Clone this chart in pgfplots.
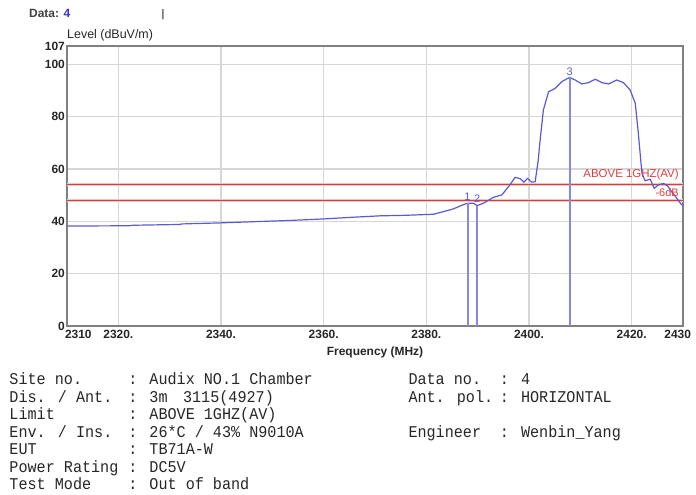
\documentclass[border=0pt]{standalone}
\usepackage{fontspec}
\setmainfont{Liberation Sans}
\newfontfamily\monof[FakeStretch=0.92]{Liberation Mono}
\usepackage{pgfplots}
\pgfplotsset{compat=1.18}
\definecolor{curveblue}{RGB}{90,90,210}
\definecolor{markblue}{RGB}{135,135,228}
\definecolor{limred}{RGB}{205,65,65}
\definecolor{limhalo}{RGB}{242,195,195}
\definecolor{gridgray}{RGB}{214,214,214}
\definecolor{framegray}{RGB}{128,128,128}
\definecolor{labred}{RGB}{225,60,60}
\definecolor{datablue}{RGB}{50,50,210}
\newcommand{\ML}[3]{\node[anchor=base west,inner sep=0pt,text=black!85,font=\monof\fontsize{16.5}{16.5}\selectfont] at (#1bp,#2bp) {#3};}
\begin{document}
\begin{tikzpicture}
\useasboundingbox (0,0) rectangle (696bp,495bp);
\begin{axis}[
  at={(67bp,169bp)}, anchor=south west,
  scale only axis, width=616bp, height=280bp,
  xmin=2310, xmax=2430, ymin=0, ymax=107,
  clip=false,
  axis line style={draw=framegray, line width=1.5bp},
  xtick={2310,2320,2340,2360,2380,2400,2420,2430},
  xticklabels={\makebox[0pt][l]{\kern-2bp 2310},2320.,2340.,2360.,2380.,2400.,2420.,\makebox[0pt][r]{2430\kern-8bp}},
  ytick={0,20,40,60,80,100,107},
  yticklabels={0,20,40,60,80,100,107},
  major tick length=0pt,
  grid=major,
  major grid style={draw=gridgray, line width=1.4bp},
  /pgf/number format/assume math mode=true,
  tick label style={font=\fontsize{12}{12}\selectfont\bfseries, text=black!85},
  yticklabel style={inner sep=2bp},
  xticklabel style={inner sep=2bp, yshift=-2bp},
  xlabel={Frequency (MHz)},
  every axis x label/.style={at={(axis description cs:0.5,-0.094)}, anchor=center, font=\fontsize{12}{12}\selectfont\bfseries, text=black!85},
  ylabel={Level (dBuV/m)},
  every axis y label/.style={at={(axis description cs:0,1.039)}, anchor=west, inner sep=0pt, font=\fontsize{12.5}{12.5}\selectfont, text=black!85},
]
% limit lines with halo
\addplot[limhalo, line width=3.2bp] coordinates {(2310,54) (2430,54)};
\addplot[limhalo, line width=3.2bp] coordinates {(2310,48) (2430,48)};
\addplot[limred, line width=1.1bp] coordinates {(2310,54) (2430,54)};
\addplot[limred, line width=1.1bp] coordinates {(2310,48) (2430,48)};
% spectrum trace
\addplot[curveblue, line width=1.2bp] coordinates {
(2310.0,38.2) (2322.0,38.3) (2322.9,38.5) (2332.0,38.8) (2332.3,39.0)
(2339.8,39.4) (2347.0,39.9) (2353.0,40.3) (2359.9,40.9) (2365.1,41.5)
(2371.0,42.1) (2376.0,42.3) (2381.4,42.7) (2383.3,43.7) (2385.2,44.7)
(2387.5,46.6) (2388.2,46.9) (2389.2,46.9) (2389.9,46.0) (2391.1,46.9)
(2393.1,49.2) (2394.7,50.1) (2396.0,53.2) (2397.3,56.8) (2398.3,56.3)
(2399.0,55.0) (2399.7,56.4) (2400.5,55.0) (2401.2,55.1) (2401.8,63.4)
(2402.1,69.8) (2402.8,82.5) (2403.8,89.5) (2405.1,90.8) (2406.4,93.4)
(2407.9,95.0) (2409.0,94.0) (2410.3,92.5) (2411.6,93.0) (2412.9,94.3)
(2414.2,93.0) (2415.5,92.5) (2417.1,94.0) (2418.4,93.0) (2419.7,90.2)
(2420.7,85.1) (2421.3,73.6) (2422.0,58.4) (2422.6,55.5) (2423.6,56.1)
(2424.4,52.6) (2425.2,53.9) (2426.2,54.5) (2427.0,53.5) (2427.8,51.3)
(2428.8,48.8) (2429.6,46.6) (2430.0,46.0)
};
% marker lines
\addplot[markblue, line width=2bp] coordinates {(2388.2,0) (2388.2,46.9)};
\addplot[markblue, line width=2bp] coordinates {(2389.9,0) (2389.9,46.0)};
\addplot[markblue, line width=2bp] coordinates {(2407.9,0) (2407.9,95.0)};
\node[anchor=south, inner sep=0.8bp, text=curveblue, font=\fontsize{11}{11}\selectfont] at (axis cs:2388.0,47.6) {1};
\node[anchor=south, inner sep=0.8bp, text=curveblue, font=\fontsize{11}{11}\selectfont] at (axis cs:2389.9,46.8) {2};
\node[anchor=south, inner sep=0.8bp, text=curveblue, font=\fontsize{11}{11}\selectfont] at (axis cs:2407.9,95.2) {3};
% limit labels
\node[anchor=east, inner sep=0pt, text=labred, font=\fontsize{11.5}{11.5}\selectfont] at (axis cs:2429.2,57.8) {ABOVE 1GHZ(AV)};
\node[anchor=east, inner sep=0pt, text=labred, font=\fontsize{11}{11}\selectfont] at (axis cs:2429.2,50.8) {-6dB};
\end{axis}
% header
\node[anchor=base west, inner sep=0pt, font=\fontsize{12}{12}\selectfont\bfseries] at (29bp,477bp) {\textcolor{black!75}{Data:} \textcolor{datablue}{4}};
\node[anchor=base, inner sep=0pt, font=\fontsize{11}{11}\selectfont] at (163bp,477bp) {|};
% info block, left column
\ML{9.3}{110}{Site no.}
\ML{128.1}{110}{: Audix NO.1 Chamber}
\ML{9.3}{92.6}{Dis. / Ant.}
\ML{128.1}{92.6}{: 3m}
\ML{182.9}{92.6}{3115(4927)}
\ML{9.3}{75.2}{Limit}
\ML{128.1}{75.2}{: ABOVE 1GHZ(AV)}
\ML{9.3}{57.8}{Env. / Ins.}
\ML{128.1}{57.8}{: 26*C / 43\% N9010A}
\ML{9.3}{40.4}{EUT}
\ML{128.1}{40.4}{: TB71A-W}
\ML{9.3}{23.0}{Power Rating}
\ML{128.1}{23.0}{: DC5V}
\ML{9.3}{5.6}{Test Mode}
\ML{128.1}{5.6}{: Out of band}
% right column
\ML{408.3}{110}{Data no.}
\ML{499.7}{110}{: 4}
\ML{408.3}{92.6}{Ant. pol.}
\ML{499.7}{92.6}{: HORIZONTAL}
\ML{408.3}{57.8}{Engineer}
\ML{499.7}{57.8}{: Wenbin\_Yang}
\end{tikzpicture}
\end{document}
